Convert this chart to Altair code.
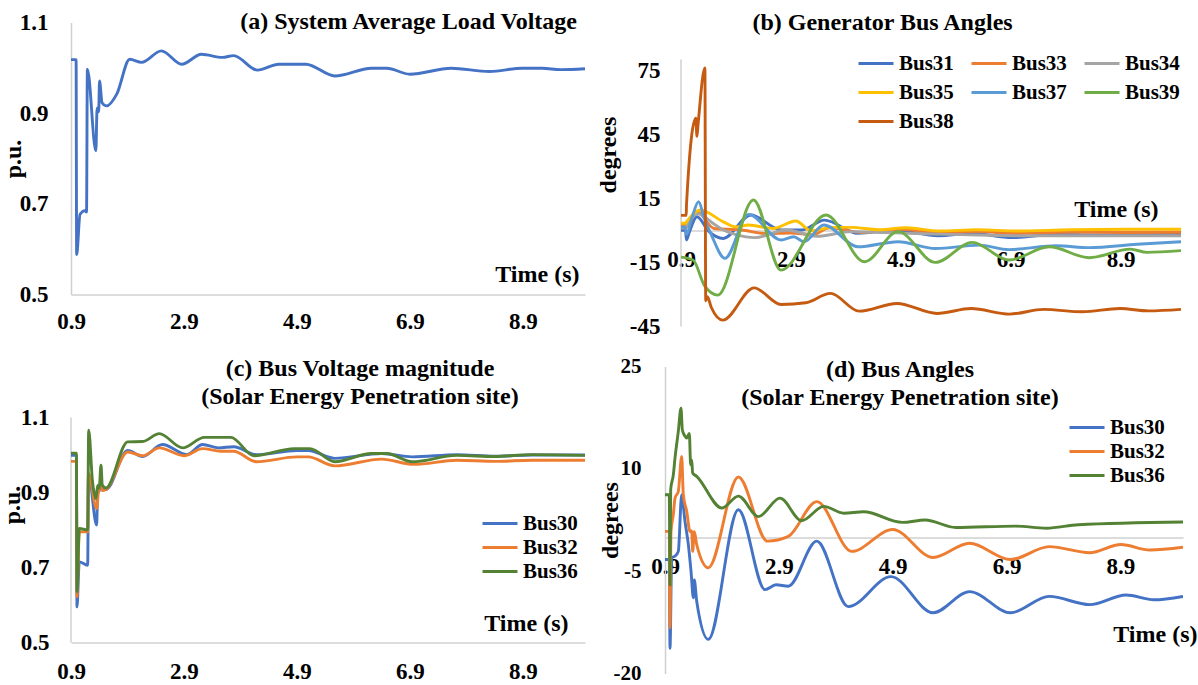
import altair as alt
import pandas as pd

FONT = "Liberation Serif"
GRAY = "#d0d0d0"

# ---------------- Titles ----------------
a_title = ["(a) System Average Load Voltage"]
b_title = ["(b) Generator Bus Angles"]
c_title = ["(c) Bus Voltage magnitude", "(Solar Energy Penetration site)"]
d_title = ["(d) Bus Angles", "(Solar Energy Penetration site)"]

# ---------------- Panel (a): System Average Load Voltage ----------------
a_t = [0.9, 0.99, 1.0, 1.06, 1.15, 1.175, 1.19, 1.34, 1.36, 1.375, 1.39, 1.405, 1.45, 1.53, 1.71,
       1.94, 2.15, 2.5, 2.86, 3.21, 3.58, 3.78, 4.2, 4.58, 5.06, 5.57, 6.22, 6.49, 6.9, 7.63,
       8.31, 8.89, 9.24, 9.57, 10.0]
a_v = [1.018, 1.018, 0.588, 0.677, 0.685, 0.682, 0.997, 0.817, 0.905, 0.912, 0.903, 0.971, 0.923,
       0.916, 0.942, 1.019, 1.012, 1.0375, 1.008, 1.030, 1.023, 1.027, 0.995, 1.008, 1.008, 0.982,
       0.999, 0.999, 0.986, 0.999, 0.992, 0.999, 0.999, 0.996, 0.998]

# ---------------- Panel (b): Generator Bus Angles ----------------
b_names = ["Bus31", "Bus33", "Bus34", "Bus35", "Bus37", "Bus39", "Bus38"]
b_colors = ["#4472C4", "#ED7D31", "#A5A5A5", "#FFC000", "#5B9BD5", "#70AD47", "#C55A11"]

b31_t = [0.9, 0.98, 1.0, 1.05, 1.19, 1.41, 1.67, 2.17, 2.72, 3.1, 3.51, 4.12, 4.8, 5.58, 6.2, 6.93, 7.7, 8.5, 10.0]
b31_v = [0.0, 0.0, -4.5, -1.0, 6.4, -0.6, -3.8, 7.2, 0.2, 0.2, 4.8, -1.4, 0.2, -2.5, -1.4, -3.4, -1.9, -2.2, -1.9]

b33_t = [0.9, 0.98, 1.0, 1.19, 1.5, 2.0, 2.45, 2.9, 3.3, 3.6, 4.2, 4.9, 5.6, 6.3, 7.0, 8.0, 9.0, 10.0]
b33_v = [2.5, 2.5, 1.5, 8.8, 0.9, 0.2, -1.5, -1.2, -2.0, 1.2, -1.0, 0.5, -1.2, -0.5, -1.5, -0.8, -1.0, -0.9]

b34_t = [0.9, 0.98, 1.0, 1.2, 1.5, 1.67, 1.9, 2.25, 2.81, 3.37, 4.0, 4.6, 5.3, 6.0, 7.0, 8.0, 9.0, 10.0]
b34_v = [1.1, 1.1, 2.0, 7.8, 3.0, 0.2, -2.0, -3.4, 0.2, -2.8, -0.6, -1.0, -1.6, -2.0, -2.5, -2.5, -2.5, -2.5]

b35_t = [0.9, 0.98, 1.0, 1.25, 1.67, 1.9, 2.13, 2.57, 2.99, 3.27, 3.65, 4.0, 4.5, 5.0, 5.6, 6.3, 7.0, 8.0, 9.0, 10.0]
b35_v = [3.3, 3.3, 4.0, 9.5, 4.0, 1.6, 2.5, 0.9, 4.4, -0.2, 1.4, 1.4, 0.3, 1.2, -0.3, 0.3, -0.3, 0.3, 0.5, 0.5]

b37_t = [0.9, 0.98, 1.0, 1.1, 1.22, 1.32, 1.45, 1.70, 2.13, 2.72, 2.95, 3.14, 3.5, 4.12, 4.85, 5.53, 6.32,
         6.87, 7.73, 8.33, 9.2, 10.0]
b37_v = [1.5, 1.5, -2.0, 6.0, 13.4, 6.0, -2.0, -13.1, 7.5, -4.5, -3.0, -5.3, 2.5, -7.7, -5.3, -8.5, -6.9,
         -9.0, -7.2, -8.1, -6.5, -5.3]

b39_t = [0.9, 1.12, 1.33, 1.57, 2.22, 2.72, 3.54, 4.24, 4.85, 5.53, 6.20, 6.87, 7.60, 8.33, 9.08, 9.38, 10.0]
b39_v = [-12.5, -13.9, -26.0, -30.3, 14.2, -18.6, 7.2, -14.7, -0.6, -15.0, -5.6, -13.9, -7.7, -12.8, -8.8, -10.3, -9.5]

b38_t = [0.9, 0.995, 1.0, 1.17, 1.19, 1.21, 1.335, 1.35, 1.38, 1.45, 1.66, 2.23, 2.72, 3.17, 3.62, 4.14,
         4.83, 5.56, 6.18, 6.88, 7.50, 8.20, 8.89, 9.41, 10.0]
b38_v = [7.0, 7.0, 12.0, 52.5, 44.0, 49.4, 76.0, -33.0, -31.0, -36.0, -42.0, -26.9, -34.7, -33.9, -29.5,
         -37.8, -34.2, -38.9, -36.6, -39.2, -37.0, -38.1, -36.6, -37.7, -37.0]

# ---------------- Panel (c): Bus Voltage magnitude ----------------
cd_names = ["Bus30", "Bus32", "Bus36"]
cd_colors = ["#4472C4", "#ED7D31", "#548235"]

c30_t = [0.9, 0.995, 1.006, 1.047, 1.195, 1.21, 1.354, 1.372, 1.40, 1.431, 1.454, 1.519, 1.903, 2.169,
         2.52, 2.95, 3.23, 3.51, 3.78, 4.18, 4.9, 5.1, 5.57, 6.40, 6.94, 7.73, 8.41, 9.06, 10.0]
c30_v = [0.999, 0.999, 0.595, 0.715, 0.706, 0.95, 0.813, 0.90, 0.905, 0.93, 0.91, 0.908, 1.012, 0.996,
         1.028, 1.001, 1.028, 1.019, 1.022, 1.001, 1.012, 1.012, 0.991, 1.004, 0.995, 1.001, 0.997, 1.0, 1.0]

c32_t = [0.9, 0.995, 1.006, 1.047, 1.195, 1.21, 1.354, 1.39, 1.42, 1.454, 1.519, 1.903, 2.169, 2.464,
         2.9, 3.23, 3.55, 3.78, 4.18, 4.9, 5.1, 5.57, 6.40, 6.97, 7.73, 8.41, 9.06, 10.0]
c32_v = [0.983, 0.983, 0.622, 0.795, 0.795, 0.95, 0.857, 0.91, 0.925, 0.905, 0.908, 1.008, 0.998, 1.019,
         0.998, 1.017, 1.01, 1.01, 0.982, 0.995, 0.995, 0.971, 0.989, 0.975, 0.986, 0.983, 0.986, 0.986]

c36_t = [0.9, 0.995, 1.006, 1.047, 1.195, 1.213, 1.28, 1.342, 1.372, 1.40, 1.431, 1.454, 1.519, 1.903,
         2.169, 2.464, 2.877, 3.26, 3.73, 4.14, 4.85, 5.13, 5.57, 6.22, 6.49, 6.94, 7.73, 8.41, 9.06, 10.0]
c36_v = [1.005, 1.005, 0.635, 0.804, 0.80, 1.066, 0.93, 0.884, 0.919, 0.912, 0.973, 0.92, 0.912, 1.035,
         1.036, 1.057, 1.019, 1.047, 1.047, 0.998, 1.017, 1.017, 0.982, 1.004, 1.004, 0.982, 0.999, 0.996,
         1.001, 0.999]

# ---------------- Panel (d): Bus Angles ----------------
d30_t = [0.9, 0.975, 0.988, 1.018, 1.076, 1.134, 1.193, 1.251, 1.31, 1.357, 1.398, 1.415, 1.457, 1.661,
         2.189, 2.657, 2.85, 3.067, 3.566, 4.12, 4.87, 5.61, 6.25, 6.97, 7.65, 8.36, 9.0, 9.49, 10.0]
d30_v = [-3.3, -3.3, -16.3, -3.0, -2.8, -2.1, 6.2, 2.3, -1.1, -5.0, -8.9, -6.3, -9.4, -15.0,
         4.0, -7.7, -7.0, -7.2, -0.6, -10.2, -5.8, -11.1, -8.0, -11.1, -8.7, -9.9, -8.5, -9.2, -8.7]

d32_t = [0.9, 0.975, 0.988, 1.005, 1.046, 1.076, 1.134, 1.193, 1.222, 1.281, 1.34, 1.369, 1.386, 1.415,
         1.457, 1.661, 2.189, 2.70, 3.067, 3.566, 4.18, 4.90, 5.61, 6.25, 6.97, 7.65, 8.36, 8.91, 9.42, 10.0]
d32_v = [0.83, 0.83, -13.3, 0.8, 3.3, 5.7, 6.7, 11.8, 6.2, 3.8, 0.8, 0.9, -2.1, 0.8,
         -1.1, -4.5, 8.8, -0.6, 0.1, 5.2, -2.1, 1.1, -3.0, -0.9, -3.3, -1.4, -2.3, -1.1, -1.9, -1.5]

d36_t = [0.9, 0.975, 0.988, 1.0, 1.046, 1.076, 1.134, 1.181, 1.205, 1.251, 1.281, 1.327, 1.351, 1.369,
         1.386, 1.457, 1.9, 2.189, 2.54, 2.92, 3.30, 3.69, 4.04, 4.39, 5.07, 5.47, 6.01, 7.06, 7.6, 8.16, 10.0]
d36_v = [6.2, 6.2, -7.0, 7.0, 9.1, 11.6, 15.5, 18.9, 15.7, 14.8, 14.5, 15.2, 10.6, 11.3,
         9.4, 8.9, 4.25, 6.0, 3.0, 5.7, 2.4, 4.5, 3.5, 3.7, 2.15, 2.5, 1.4, 1.6, 1.3, 1.8, 2.2]

x_ticks = [0.9, 2.9, 4.9, 6.9, 8.9]
a_ticks = [0.5, 0.7, 0.9, 1.1]
b_ticks = [-45, -15, 15, 45, 75]
c_ticks = [0.5, 0.7, 0.9, 1.1]
d_ticks = [-20, -5, 10, 25]


def long_frame(series):
    rows = []
    for name, ts, vs in series:
        assert len(ts) == len(vs), name
        for i, (t, v) in enumerate(zip(ts, vs)):
            rows.append({"series": name, "t": t, "v": v, "i": i})
    return pd.DataFrame(rows)


df_a = long_frame([("Avg", a_t, a_v)])
df_b = long_frame([("Bus31", b31_t, b31_v), ("Bus33", b33_t, b33_v), ("Bus34", b34_t, b34_v),
                   ("Bus35", b35_t, b35_v), ("Bus37", b37_t, b37_v), ("Bus39", b39_t, b39_v),
                   ("Bus38", b38_t, b38_v)])
df_c = long_frame([("Bus30", c30_t, c30_v), ("Bus32", c32_t, c32_v), ("Bus36", c36_t, c36_v)])
df_d = long_frame([("Bus30", d30_t, d30_v), ("Bus32", d32_t, d32_v), ("Bus36", d36_t, d36_v)])

LINE = dict(strokeWidth=2.9, interpolate="monotone", clip=True)
XSCALE = alt.Scale(domain=[0.9, 10.0], nice=False, zero=False)


def x_axis(title_x, title_y, label_pad, offset=0):
    return alt.Axis(values=x_ticks, labelExpr="'' + datum.value", labelPadding=label_pad,
                    labelFontSize=23, offset=offset, title="Time (s)", titleFontSize=24,
                    titleX=title_x, titleY=title_y, titleAlign="right", titleBaseline="alphabetic")


def y_axis(values, title, title_x, label_pad, label_size=23, title_y=None, domain=True):
    kw = dict(values=values, labelExpr="'' + datum.value", labelPadding=label_pad,
              labelFontSize=label_size, title=title, titleFontSize=24, titleX=title_x,
              titleBaseline="alphabetic", domain=domain)
    if title_y is not None:
        kw["titleY"] = title_y
    return alt.Axis(**kw)


def legend(lx, ly, row_pad, columns=1, size=1225, shape="stroke", label_offset=4):
    return alt.Legend(title=None, orient="none", legendX=lx, legendY=ly, columns=columns,
                      direction="horizontal",
                      symbolType=shape, symbolSize=size, symbolStrokeWidth=3,
                      labelFont=FONT, labelFontSize=21, labelFontWeight="bold", labelColor="black",
                      labelOffset=label_offset, rowPadding=row_pad, columnPadding=11, padding=0)


def title_layers(lines, x, ys, align):
    out = []
    for txt, y in zip(lines, ys):
        out.append(alt.Chart(pd.DataFrame({"label": [txt]})).mark_text(
            font=FONT, fontSize=24, fontWeight="bold", color="black",
            align=align, baseline="alphabetic").encode(
            x=alt.value(x), y=alt.value(y), text="label:N"))
    return out


def axis_rule(lo, hi, xscale, xaxis, yscale, yaxis):
    # vertical axis line drawn through the data scales (from lo to hi at t = 0.9)
    return alt.Chart(pd.DataFrame({"t": [x_ticks[0]], "v": [lo], "v2": [hi]})).mark_rule(
        color=GRAY, strokeWidth=1.5).encode(
        x=alt.X("t:Q", scale=xscale, axis=xaxis),
        y=alt.Y("v:Q", scale=yscale, axis=yaxis), y2="v2:Q")


# (a)
lines_a = alt.Chart(df_a).mark_line(color="#4472C4", **LINE).encode(
    x=alt.X("t:Q", scale=XSCALE, axis=x_axis(508, -13, 16)),
    y=alt.Y("v:Q", scale=alt.Scale(domain=[0.5, 1.1], nice=False, zero=False),
            axis=y_axis(a_ticks, "p.u.", -51, 23)),
    order="i:Q",
)
chart_a = alt.layer(lines_a, *title_layers(a_title, 506, [6], "right")).properties(width=514, height=272)

# (b) -- plot area extended upward so that its top lines up with panel (a)
xb_axis = x_axis(477, -14, 18, offset=-96)
yb_scale = alt.Scale(domain=[-45, 97.3], nice=False, zero=False)
yb_axis = y_axis(b_ticks, "degrees", -66, 21, title_y=132, domain=False)
lines_b = alt.Chart(df_b).mark_line(**LINE).encode(
    x=alt.X("t:Q", scale=XSCALE, axis=xb_axis),
    y=alt.Y("v:Q", scale=yb_scale, axis=yb_axis),
    color=alt.Color("series:N", scale=alt.Scale(domain=b_names, range=b_colors),
                    legend=legend(176, 22, 0, columns=3)),
    order="i:Q",
)
chart_b = alt.layer(axis_rule(-45, 80, XSCALE, xb_axis, yb_scale, yb_axis), lines_b,
                    *title_layers(b_title, 201.5, [7], "center")).properties(width=500, height=304)

# (c) -- plot area extended upward so that its top lines up with panel (d)
xc_axis = x_axis(497, -12, 17.5)
yc_scale = alt.Scale(domain=[0.5, 1.236], nice=False, zero=False)
yc_axis = y_axis(c_ticks, "p.u.", -52, 22, domain=False)
lines_c = alt.Chart(df_c).mark_line(**LINE).encode(
    x=alt.X("t:Q", scale=XSCALE, axis=xc_axis),
    y=alt.Y("v:Q", scale=yc_scale, axis=yc_axis),
    color=alt.Color("series:N", scale=alt.Scale(domain=cd_names, range=cd_colors),
                    legend=legend(415, 143, 0, size=625, shape="M-1.4,0L1.4,0", label_offset=9)),
    order="i:Q",
)
chart_c = alt.layer(axis_rule(0.5, 1.1, XSCALE, xc_axis, yc_scale, yc_axis), lines_c,
                    *title_layers(c_title, 289, [9, 37], "center")).properties(width=514, height=276)

# (d)
lines_d = alt.Chart(df_d).mark_line(**LINE).encode(
    x=alt.X("t:Q", scale=XSCALE, axis=x_axis(532, 104, 17.5, offset=-136)),
    y=alt.Y("v:Q", scale=alt.Scale(domain=[-20, 25], nice=False, zero=False),
            axis=y_axis(d_ticks, "degrees", -48, 24, label_size=21)),
    color=alt.Color("series:N", scale=alt.Scale(domain=cd_names, range=cd_colors),
                    legend=legend(408, 47, 0, size=625, shape="M-1.4,0L1.4,0", label_offset=9)),
    order="i:Q",
)
chart_d = alt.layer(lines_d, *title_layers(d_title, 235, [10, 38], "center")).properties(width=518, height=307)

row1 = alt.hconcat(chart_a, chart_b, spacing=11).resolve_scale(color="independent", x="independent", y="independent")
row2 = alt.hconcat(chart_c, chart_d, spacing=13).resolve_scale(color="independent", x="independent", y="independent")

chart = alt.vconcat(row1, row2, spacing=17).resolve_scale(
    color="independent", x="independent", y="independent"
).properties(
    padding={"left": 0, "top": 9.5, "right": 0, "bottom": 0},
    background="white",
).configure_view(strokeWidth=0).configure_axis(
    labelFont=FONT, labelFontWeight="bold", labelColor="black",
    titleFont=FONT, titleFontWeight="bold", titleColor="black",
    grid=False, ticks=False, tickSize=0, domainColor=GRAY, domainWidth=1.5,
    labelFlush=False, labelOverlap=False,
)

chart.save("out.html", embed_options={"renderer": "svg", "actions": False})
